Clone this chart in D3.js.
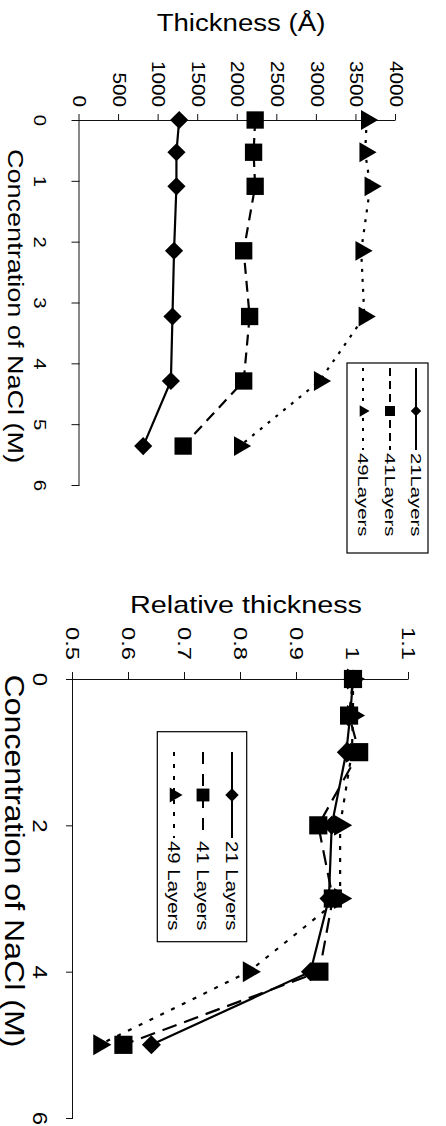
<!DOCTYPE html>
<html>
<head>
<meta charset="utf-8">
<script src="https://cdn.jsdelivr.net/npm/d3@7"></script>
<style>
  body { margin: 0; background: #fff; }
  svg { display: block; }
</style>
</head>
<body>
<div id="chart"></div>
<script>
// top panel: absolute thickness (concentrations)
const conc1 = [0, 0.53, 1.09, 2.15, 3.23, 4.29, 5.36];
const thick21 = [1260, 1225, 1225, 1195, 1175, 1155, 805];
const thick41 = [2220, 2200, 2220, 2075, 2150, 2075, 1310];
const thick49 = [3630, 3610, 3675, 3560, 3600, 3035, 2025];
const thickTicks = [0, 500, 1000, 1500, 2000, 2500, 3000, 3500, 4000];
const concTicks1 = [0, 1, 2, 3, 4, 5, 6];
const legend1 = ["21Layers", "41Layers", "49Layers"];

// bottom panel: relative thickness
const conc2 = [0, 0.5, 1, 2, 3, 4, 5];
const rel21 = [1.0, 0.995, 0.988, 0.962, 0.957, 0.924, 0.64];
const rel41 = [1.0, 0.993, 1.011, 0.938, 0.964, 0.94, 0.59];
const rel49 = [1.0, 1.0, 0.998, 0.977, 0.977, 0.814, 0.547];
const relTicks = [0.5, 0.6, 0.7, 0.8, 0.9, 1.0, 1.1];
const concTicks2 = [0, 2, 4, 6];
const legend2 = ["21 Layers", "41 Layers", "49 Layers"];

const FONT = '"Liberation Sans", Arial, Helvetica, sans-serif';
const W = 446, H = 1126;

const svg = d3.select("#chart").append("svg")
  .attr("width", W)
  .attr("height", H);

// the figure is printed a quarter turn clockwise: draw it upright, then turn the whole group
const g = svg.append("g")
  .attr("transform", `translate(${W},0) rotate(90)`);

const diamond = { type: d3.symbolSquare, rot: 45 };
const square = { type: d3.symbolSquare, rot: 0 };
const triangle = { type: d3.symbolTriangle, rot: 0 };

function drawPanel(p) {
  const x = d3.scaleLinear().domain(p.xDomain).range(p.xRange);
  const y = d3.scaleLinear().domain(p.yDomain).range(p.yRange);
  const root = g.append("g");

  // concentration axis (bottom of the upright chart)
  const xAxis = root.append("g")
    .attr("transform", `translate(0,${y(p.yDomain[0])})`)
    .call(d3.axisBottom(x).tickValues(p.xTicks).tickSize(p.xTickSize)
      .tickSizeOuter(0).tickPadding(p.xPad).tickFormat(d => String(d)));
  xAxis.attr("font-size", p.xFont).attr("font-family", FONT);
  xAxis.selectAll("text").attr("transform", `scale(${p.xStretch},1)`);

  // thickness axis (left of the upright chart)
  const yAxis = root.append("g")
    .attr("transform", `translate(${x(0)},0)`)
    .call(d3.axisLeft(y).tickValues(p.yTicks).tickSize(p.yTickSize)
      .tickSizeOuter(0).tickPadding(p.yPad).tickFormat(p.yFormat));
  yAxis.attr("font-size", p.yFont).attr("font-family", FONT);
  yAxis.selectAll("text")
    .attr("x", -(p.yTickSize + p.yPad) / p.yStretch)
    .attr("transform", `scale(${p.yStretch},1)`);
  root.selectAll(".domain, .tick line").attr("stroke", "#111");

  // axis titles
  root.append("text")
    .attr("transform", `translate(${p.yTitlePos[0]},${p.yTitlePos[1]}) rotate(-90) scale(${p.titleStretch[1]},1)`)
    .attr("text-anchor", "middle")
    .attr("font-family", FONT)
    .attr("font-size", p.titleFont[1])
    .text(p.yTitle);
  root.append("text")
    .attr("transform", `translate(${p.xTitlePos[0]},${p.xTitlePos[1]}) scale(${p.titleStretch[0]},1)`)
    .attr("text-anchor", "middle")
    .attr("font-family", FONT)
    .attr("font-size", p.titleFont[0])
    .text(p.xTitle);

  // series
  p.series.forEach(s => {
    const pts = p.xValues.map((c, i) => [x(c), y(s.values[i])]);
    root.append("path")
      .attr("d", d3.line()(pts))
      .attr("fill", "none")
      .attr("stroke", "#000")
      .attr("stroke-width", 2.2)
      .attr("stroke-dasharray", s.dash);
    root.append("g").selectAll("path")
      .data(pts)
      .join("path")
      .attr("transform", d => `translate(${d[0]},${d[1]}) rotate(${s.mark.rot})`)
      .attr("d", d3.symbol(s.mark.type, s.size)())
      .attr("fill", "#000");
  });

  // legend
  const L = p.legend;
  const lg = root.append("g");
  lg.append("rect")
    .attr("x", L.box[0]).attr("y", L.box[1])
    .attr("width", L.box[2] - L.box[0]).attr("height", L.box[3] - L.box[1])
    .attr("fill", "#fff").attr("stroke", "#000").attr("stroke-width", 1.2);
  p.series.forEach((s, i) => {
    const ry = L.rows[i];
    lg.append("line")
      .attr("x1", L.line[0]).attr("x2", L.line[1])
      .attr("y1", ry).attr("y2", ry)
      .attr("stroke", "#000").attr("stroke-width", 2)
      .attr("stroke-dasharray", s.legendDash);
    lg.append("path")
      .attr("transform", `translate(${L.mark},${ry}) rotate(${s.mark.rot})`)
      .attr("d", d3.symbol(s.mark.type, s.size * L.markScale)())
      .attr("fill", "#000");
    lg.append("text")
      .attr("transform", `translate(${L.text},${ry}) scale(${L.stretch},1)`)
      .attr("dy", "0.35em")
      .attr("font-family", FONT)
      .attr("font-size", L.font)
      .text(L.names[i]);
  });
}

drawPanel({
  xDomain: [0, 6], xRange: [120, 485],
  yDomain: [0, 4000], yRange: [366.5, 50],
  xTicks: concTicks1, xTickSize: 8, xPad: 25, xFont: 17, xStretch: 1.2,
  yTicks: thickTicks, yTickSize: 6, yPad: 7, yFont: 18, yStretch: 1.15,
  yFormat: d => String(d),
  xTitle: "Concentration of NaCl (M)", xTitlePos: [306, 438],
  yTitle: "Thickness (Å)", yTitlePos: [31, 205],
  titleFont: [22, 24], titleStretch: [1.23, 1.15],
  xValues: conc1,
  series: [
    { values: thick21, mark: diamond, size: 165, dash: null, legendDash: null },
    { values: thick41, mark: square, size: 300, dash: "11,7", legendDash: "8,5" },
    { values: thick49, mark: triangle, size: 170, dash: "3,7", legendDash: "3,7" }
  ],
  legend: {
    names: legend1,
    box: [363, 18, 553, 99],
    rows: [30, 56, 83],
    line: [368, 450], mark: 411, text: 453,
    font: 14, stretch: 1.45, markScale: 0.33
  }
});

drawPanel({
  xDomain: [0, 6], xRange: [679, 1118],
  yDomain: [0.5, 1.1], yRange: [373, 37],
  xTicks: concTicks2, xTickSize: 7, xPad: 19, xFont: 20, xStretch: 1.2,
  yTicks: relTicks, yTickSize: 7, yPad: 12, yFont: 19, yStretch: 1.25,
  yFormat: d => String(+d.toFixed(1)),
  xTitle: "Concentration of NaCl (M)", xTitlePos: [861, 441],
  yTitle: "Relative thickness", yTitlePos: [613, 200],
  titleFont: [27, 24], titleStretch: [1.19, 1.2],
  xValues: conc2,
  series: [
    { values: rel21, mark: diamond, size: 180, dash: null, legendDash: null },
    { values: rel41, mark: square, size: 330, dash: "15,8", legendDash: "12,10" },
    { values: rel49, mark: triangle, size: 190, dash: "4,8", legendDash: "4,8" }
  ],
  legend: {
    names: legend2,
    box: [731.7, 199.3, 941.7, 288.7],
    rows: [214, 243, 272],
    line: [752, 838], mark: 795, text: 841,
    font: 17, stretch: 1.2, markScale: 0.5
  }
});
</script>
</body>
</html>
